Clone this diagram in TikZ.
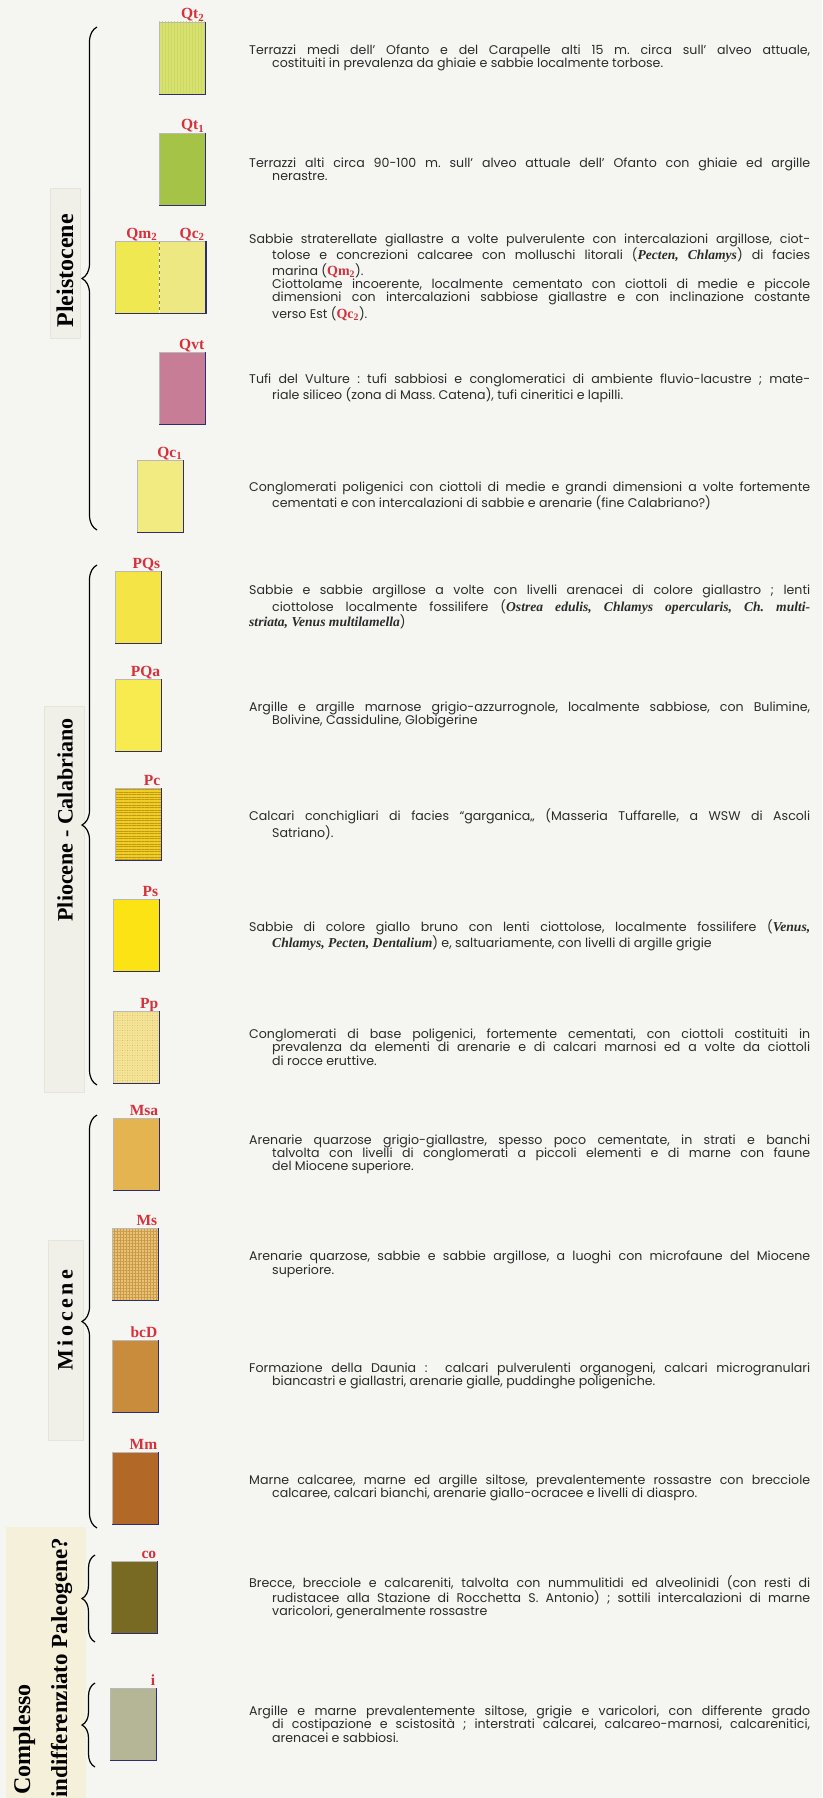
\documentclass[tikz,border=0pt]{standalone}
\usepackage{fontspec}
\setmainfont{Poppins}
\newfontfamily\timesfont{Liberation Serif}
\usetikzlibrary{decorations.pathreplacing,patterns.meta}

\tolerance=10000
\hbadness=10000
\frenchspacing

\definecolor{paper}{HTML}{F5F5F2}
\definecolor{stripcol}{HTML}{F1F0E8}
\definecolor{stripedge}{HTML}{E6E5DC}
\definecolor{stripcream}{HTML}{F5F0D9}
\definecolor{ink}{HTML}{2B2B2B}
\definecolor{sigred}{HTML}{D6303A}
\definecolor{edgeblue}{HTML}{2E2E6E}
\definecolor{divider}{HTML}{8A8040}
% colours of the strata
\definecolor{qttwo}{HTML}{D7E16E}
\definecolor{qtline}{HTML}{CDD866}
\definecolor{qtone}{HTML}{A5C346}
\definecolor{qmtwo}{HTML}{F0E850}
\definecolor{qctwo}{HTML}{EEE882}
\definecolor{qvtcol}{HTML}{C87D96}
\definecolor{qcone}{HTML}{F2EB82}
\definecolor{pqscol}{HTML}{F5E446}
\definecolor{pqacol}{HTML}{F7EB50}
\definecolor{pccol}{HTML}{F0CD28}
\definecolor{pcline}{HTML}{C09A10}
\definecolor{pscol}{HTML}{FCE414}
\definecolor{ppcol}{HTML}{F5E496}
\definecolor{ppdot}{HTML}{C8A860}
\definecolor{msacol}{HTML}{E4B450}
\definecolor{mscol}{HTML}{EBC36E}
\definecolor{msgrid}{HTML}{C89A50}
\definecolor{bcdcol}{HTML}{C88C3C}
\definecolor{mmcol}{HTML}{B26928}
\definecolor{cocol}{HTML}{786923}
\definecolor{icol}{HTML}{B4B696}

\newcommand{\colx}{249}
\newcommand{\descpar}[1]{\parshape 2 0pt 561pt 23pt 538pt\noindent #1\par}
\newcommand{\fossil}[1]{{\timesfont\bfseries\itshape\fontsize{13.6}{13.3}\selectfont #1}}
\newcommand{\sig}[1]{{\timesfont\bfseries\fontsize{14}{13.3}\selectfont\color{sigred}#1}}

\begin{document}
\begin{tikzpicture}[x=1pt, y=-1pt,
  stratum/.style={minimum width=46pt, minimum height=72pt, inner sep=0pt, anchor=north west},
  thin edge/.style={draw=gray!55, line width=0.4pt},
  shade edge/.style={draw=edgeblue, line width=1.4pt},
  sigla/.style={font=\timesfont\bfseries\fontsize{15.5}{16}\selectfont, text=sigred, anchor=base east, inner sep=0pt},
  desc/.style={anchor=west, text width=561pt, align=justify, inner sep=0pt, text=ink, font=\fontsize{12.6}{13.3}\selectfont},
  epoch/.style={font=\timesfont\bfseries\fontsize{24}{26}\selectfont, rotate=90, inner sep=2pt},
  strip/.style={fill=stripcol, draw=stripedge, line width=0.4pt},
  era brace/.style={decorate, decoration={brace, amplitude=15pt}, line width=1.2pt},
]
\fill[paper] (0,0) rectangle (822,1798);
\useasboundingbox (0,0) rectangle (822,1798);

% epochs
\fill[strip] (50,188) rectangle (80,338);
\fill[strip] (44,706) rectangle (84,1092);
\fill[strip] (48,1240) rectangle (83,1440);
\fill[stripcream] (6,1527) rectangle (86,1798);

\node[epoch] (pleistocene) at (65,271) {Pleistocene};
\node[epoch, font=\timesfont\bfseries\fontsize{22}{24}\selectfont] (pliocene) at (65,820) {Pliocene - Calabriano};
\node[epoch, font=\timesfont\bfseries\fontsize{22}{24}\selectfont\addfontfeature{LetterSpace=16}] (miocene) at (65,1320) {Miocene};
\node[epoch, anchor=base west] (complesso) at (30,1797) {Complesso};
\node[epoch, font=\timesfont\bfseries\fontsize{23}{25}\selectfont, anchor=base west] (paleogene) at (67,1800) {indifferenziato Paleogene?};

\draw[era brace] (97,530) -- (97,27);
\draw[era brace] (97,1085) -- (97,565);
\draw[era brace] (97,1528) -- (97,1115);
\draw[era brace, decoration={brace, amplitude=13pt}] (95,1642) -- (95,1555);
\draw[era brace, decoration={brace, amplitude=13pt}] (95,1767) -- (95,1683);

% strata
\foreach \id/\xl/\yt/\col/\sg in {
  qtdue/159/22/qttwo/{Qt\textsubscript{2}},
  qtuno/159/133/qtone/{Qt\textsubscript{1}},
  qvt/159/352/qvtcol/{Qvt},
  qcuno/137/460/qcone/{Qc\textsubscript{1}},
  pqs/115/571/pqscol/{PQs},
  pqa/115/679/pqacol/{PQa},
  pc/115/788/pccol/{Pc},
  ps/113/899/pscol/{Ps},
  pp/113/1011/ppcol/{Pp},
  msa/113/1118/msacol/{Msa},
  ms/112/1228/mscol/{Ms},
  bcd/112/1340/bcdcol/{bcD},
  mm/112/1452/mmcol/{Mm},
  co/111/1561/cocol/{co},
  i/110/1688/icol/{i}}
{
  \node[stratum, fill=\col] (\id) at (\xl,\yt) {};
  \node[sigla] (sig-\id) at ([xshift=-1pt, yshift=3pt]\id.north east) {\sg};
}
\node[stratum, minimum width=44pt, fill=qmtwo] (qmdue) at (115,241) {};
\node[stratum, fill=qctwo] (qcdue) at (qmdue.north east) {};
\node[sigla] (sig-qmdue) at ([xshift=-2pt, yshift=3pt]qmdue.north east) {Qm\textsubscript{2}};
\node[sigla] (sig-qcdue) at ([xshift=-1pt, yshift=3pt]qcdue.north east) {Qc\textsubscript{2}};

%% textures
\fill[pattern={Lines[angle=90, distance=3pt, line width=0.25pt]}, pattern color=qtline] (qtdue.south west) rectangle (qtdue.north east);
\fill[pattern={Lines[angle=0, distance=2.6pt, line width=0.45pt]}, pattern color=pcline] (pc.south west) rectangle (pc.north east);
\fill[pattern={Dots[distance=2.5pt, radius=0.45pt]}, pattern color=ppdot] (pp.south west) rectangle (pp.north east);
\fill[pattern={Hatch[angle=0, distance=3pt, line width=0.35pt]}, pattern color=msgrid] (ms.south west) rectangle (ms.north east);

%% edges
\foreach \id in {qtdue,qtuno,qvt,qcuno,pqs,pqa,pc,ps,pp,msa,ms,bcd,mm,co,i}{
  \draw[thin edge] (\id.south west) |- (\id.north east);
  \draw[shade edge] (\id.south west) -- (\id.south east) -- (\id.north east);
}
\draw[dashed, draw=divider, line width=0.6pt] (qcdue.north west) -- (qcdue.south west);
\draw[thin edge] (qmdue.south west) |- (qcdue.north east);
\draw[shade edge] (qmdue.south west) -- (qcdue.south east) -- (qcdue.north east);

% descriptions
\coordinate (textcol) at (\colx,0);
\node[desc] (d-qtdue) at (qtdue.west -| textcol) {\descpar{Terrazzi medi dell' Ofanto e del Carapelle alti 15 m. circa sull' alveo attuale,\linebreak costituiti in prevalenza da ghiaie e sabbie localmente torbose.}};
\node[desc] (d-qtuno) at (qtuno.west -| textcol) {\descpar{Terrazzi alti circa 90-100 m. sull' alveo attuale dell' Ofanto con ghiaie ed argille\linebreak nerastre.}};
\node[desc] (d-qmdue) at (qcdue.west -| textcol) {\descpar{Sabbie straterellate giallastre a volte pulverulente con intercalazioni argillose, ciot-\linebreak tolose e concrezioni calcaree con molluschi litorali (\fossil{Pecten, Chlamys}) di facies\linebreak marina (\sig{Qm\textsubscript{2}}).\newline Ciottolame incoerente, localmente cementato con ciottoli di medie e piccole\linebreak dimensioni con intercalazioni sabbiose giallastre e con inclinazione costante\linebreak verso Est (\sig{Qc\textsubscript{2}}).}};
\node[desc] (d-qvt) at (qvt.west -| textcol) {\descpar{Tufi del Vulture : tufi sabbiosi e conglomeratici di ambiente fluvio-lacustre ; mate-\linebreak riale siliceo (zona di Mass. Catena), tufi cineritici e lapilli.}};
\node[desc] (d-qcuno) at (qcuno.west -| textcol) {\descpar{Conglomerati poligenici con ciottoli di medie e grandi dimensioni a volte fortemente\linebreak cementati e con intercalazioni di sabbie e arenarie (fine Calabriano?)}};
\node[desc] (d-pqs) at (pqs.west -| textcol) {\parshape 3 0pt 561pt 23pt 538pt 0pt 561pt\noindent Sabbie e sabbie argillose a volte con livelli arenacei di colore giallastro ; lenti\linebreak ciottolose localmente fossilifere (\fossil{Ostrea edulis, Chlamys opercularis, Ch. multi-}\linebreak \fossil{striata, Venus multilamella})\par};
\node[desc] (d-pqa) at (pqa.west -| textcol) {\descpar{Argille e argille marnose grigio-azzurrognole, localmente sabbiose, con Bulimine,\linebreak Bolivine, Cassiduline, Globigerine}};
\node[desc] (d-pc) at (pc.west -| textcol) {\descpar{Calcari conchigliari di facies “garganica„ (Masseria Tuffarelle, a WSW di Ascoli\linebreak Satriano).}};
\node[desc] (d-ps) at (ps.west -| textcol) {\descpar{Sabbie di colore giallo bruno con lenti ciottolose, localmente fossilifere (\fossil{Venus,}\linebreak \fossil{Chlamys, Pecten, Dentalium}) e, saltuariamente, con livelli di argille grigie}};
\node[desc] (d-pp) at (pp.west -| textcol) {\descpar{Conglomerati di base poligenici, fortemente cementati, con ciottoli costituiti in\linebreak prevalenza da elementi di arenarie e di calcari marnosi ed a volte da ciottoli\linebreak di rocce eruttive.}};
\node[desc] (d-msa) at (msa.west -| textcol) {\descpar{Arenarie quarzose grigio-giallastre, spesso poco cementate, in strati e banchi\linebreak talvolta con livelli di conglomerati a piccoli elementi e di marne con faune\linebreak del Miocene superiore.}};
\node[desc] (d-ms) at (ms.west -| textcol) {\descpar{Arenarie quarzose, sabbie e sabbie argillose, a luoghi con microfaune del Miocene\linebreak superiore.}};
\node[desc] (d-bcd) at (bcd.west -| textcol) {\descpar{Formazione della Daunia :\ \ calcari pulverulenti organogeni, calcari microgranulari\linebreak biancastri e giallastri, arenarie gialle, puddinghe poligeniche.}};
\node[desc] (d-mm) at (mm.west -| textcol) {\descpar{Marne calcaree, marne ed argille siltose, prevalentemente rossastre con brecciole\linebreak calcaree, calcari bianchi, arenarie giallo-ocracee e livelli di diaspro.}};
\node[desc] (d-co) at (co.west -| textcol) {\descpar{Brecce, brecciole e calcareniti, talvolta con nummulitidi ed alveolinidi (con resti di\linebreak rudistacee alla Stazione di Rocchetta S. Antonio) ; sottili intercalazioni di marne\linebreak varicolori, generalmente rossastre}};
\node[desc] (d-i) at (i.west -| textcol) {\descpar{Argille e marne prevalentemente siltose, grigie e varicolori, con differente grado\linebreak di costipazione e scistosità ; interstrati calcarei, calcareo-marnosi, calcarenitici,\linebreak arenacei e sabbiosi.}};

\end{tikzpicture}
\end{document}
